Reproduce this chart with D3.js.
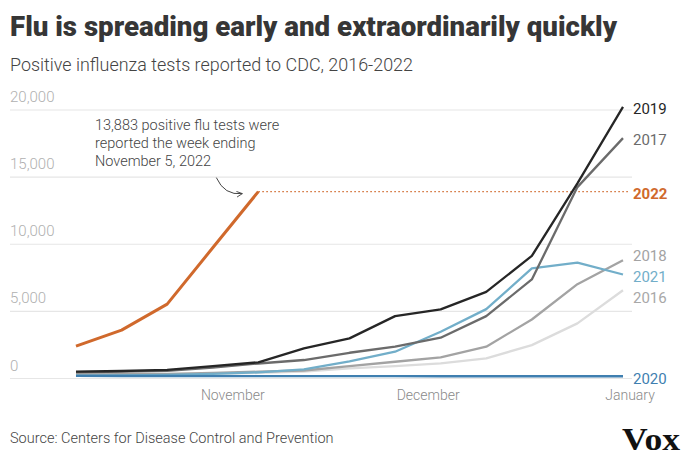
<!DOCTYPE html>
<html lang="en">
<head>
<meta charset="UTF-8">
<title>Flu is spreading early and extraordinarily quickly</title>
<script src="https://d3js.org/d3.v7.min.js"></script>
<style>
  body { margin: 0; background: #fff; font-family: Roboto, "Open Sans", Arial, sans-serif; }
</style>
</head>
<body>
<div id="chart"></div>
<script>
  // Week-ending dates of the season (MMWR weeks 40-52), placed on a 2022 calendar
  const weeks = ["2022-10-08", "2022-10-15", "2022-10-22", "2022-10-29", "2022-11-05",
                 "2022-11-12", "2022-11-19", "2022-11-26", "2022-12-03", "2022-12-10",
                 "2022-12-17", "2022-12-24", "2022-12-31"];

  // Positive flu tests per week
  const season2016 = [200, 220, 250, 300, 380, 470, 720, 890, 1090, 1460, 2450, 4070, 6540];
  const season2017 = [430, 480, 540, 780, 1080, 1340, 1880, 2330, 3000, 4610, 7340, 14220, 17870];
  const season2018 = [260, 280, 310, 380, 470, 560, 890, 1210, 1540, 2330, 4360, 6990, 8770];
  const season2019 = [470, 520, 600, 880, 1170, 2210, 2950, 4610, 5110, 6420, 9090, 14500, 20200];
  const season2020 = [160, 150, 150, 140, 140, 140, 140, 140, 130, 130, 130, 130, 130];
  const season2021 = [180, 200, 230, 300, 420, 640, 1240, 1960, 3440, 5130, 8160, 8600, 7710];
  const season2022 = [2380, 3570, 5500, 9700, 13883];

  const seriesNames = ["2016", "2018", "2021", "2017", "2019", "2020", "2022"];
  const seriesValues = [season2016, season2018, season2021, season2017, season2019, season2020, season2022];
  const seriesColors = ["#dcdcdc", "#a3a3a3", "#72aec9", "#6b6b6b", "#262626", "#3f7fb0", "#d0692c"];
  const labelColors  = ["#a8a8a8", "#a3a3a3", "#72aec9", "#6b6b6b", "#262626", "#3f7fb0", "#d0692c"];

  const yTicks = [0, 5000, 10000, 15000, 20000];
  const monthTicks = ["2022-11-01", "2022-12-01", "2023-01-01"];
  const monthLabels = ["November", "December", "January"];

  const W = 690, H = 467;
  const parse = d3.timeParse("%Y-%m-%d");

  const svg = d3.select("#chart").append("svg")
      .attr("width", W)
      .attr("height", H);

  const x = d3.scaleTime()
      .domain([parse(weeks[0]), parse(weeks[weeks.length - 1])])
      .range([76, 623]);

  const y = d3.scaleLinear()
      .domain([0, 20000])
      .range([378, 109.5]);

  // Title and subtitle
  svg.append("text")
      .attr("x", 10).attr("y", 36)
      .attr("font-size", 28).attr("font-weight", 900)
      .attr("fill", "#363636")
      .attr("textLength", 607).attr("lengthAdjust", "spacingAndGlyphs")
      .text("Flu is spreading early and extraordinarily quickly");

  svg.append("text")
      .attr("x", 10).attr("y", 71)
      .attr("font-size", 17.5).attr("font-weight", 300)
      .attr("fill", "#444")
      .attr("textLength", 403).attr("lengthAdjust", "spacingAndGlyphs")
      .text("Positive influenza tests reported to CDC, 2016-2022");

  // Y gridlines + labels
  const yAxis = svg.append("g")
      .attr("transform", "translate(10,0)")
      .call(d3.axisRight(y).tickValues(yTicks).tickSize(622).tickFormat(d3.format(",")));
  yAxis.select(".domain").remove();
  yAxis.selectAll(".tick line").attr("stroke", "#e6e6e6").attr("stroke-width", 1.2);
  yAxis.selectAll(".tick text")
      .attr("x", 0).attr("dy", -8)
      .attr("text-anchor", "start")
      .attr("font-family", "Roboto, sans-serif")
      .attr("font-size", 15).attr("font-weight", 300)
      .attr("fill", "#b0b0b0");

  // X axis month labels
  const xAxis = svg.append("g")
      .attr("transform", "translate(0,378)")
      .call(d3.axisBottom(x)
          .tickValues(monthTicks.map(parse))
          .tickSize(0)
          .tickFormat((d, i) => monthLabels[i]));
  xAxis.select(".domain").remove();
  xAxis.selectAll(".tick text")
      .attr("dy", 19)
      .attr("font-family", "Roboto, sans-serif")
      .attr("font-size", 14).attr("font-weight", 300)
      .attr("fill", "#8a8a8a");

  // Lines
  const line = d3.line()
      .x((d, i) => x(parse(weeks[i])))
      .y(d => y(d));

  const last2022 = season2022[season2022.length - 1];
  const last2022x = x(parse(weeks[season2022.length - 1]));

  // dotted reference line for 2022 peak
  svg.append("line")
      .attr("x1", last2022x).attr("x2", 630)
      .attr("y1", y(last2022)).attr("y2", y(last2022))
      .attr("stroke", "#d0692c")
      .attr("stroke-width", 1.3)
      .attr("stroke-dasharray", "1.5,2.5");

  seriesValues.forEach((vals, k) => {
      svg.append("path")
          .datum(vals)
          .attr("fill", "none")
          .attr("stroke", seriesColors[k])
          .attr("stroke-width", seriesNames[k] === "2022" ? 3 : 2.3)
          .attr("stroke-linejoin", "round")
          .attr("d", line);
  });

  // Right-hand series labels, nudged apart so they don't collide
  const labels = seriesNames.map((name, k) => ({
      name, k, y: y(seriesValues[k][seriesValues[k].length - 1]) + 2
  })).sort((a, b) => a.y - b.y);
  for (let it = 0; it < 100; it++) {
      for (let i = 1; i < labels.length; i++) {
          const gap = labels[i].y - labels[i - 1].y;
          if (gap < 21) {
              const push = (21 - gap) / 2;
              labels[i].y += push;
              labels[i - 1].y -= push;
          }
      }
  }
  svg.selectAll(".serieslabel")
      .data(labels)
      .join("text")
      .attr("class", "serieslabel")
      .attr("x", 633)
      .attr("y", d => d.y)
      .attr("dy", "0.35em")
      .attr("font-size", 15)
      .attr("font-weight", d => d.name === "2022" ? 700 : 400)
      .attr("fill", d => labelColors[d.k])
      .text(d => d.name);

  // Annotation
  const note = ["13,883 positive flu tests were", "reported the week ending", "November 5, 2022"];
  svg.append("text")
      .attr("x", 95).attr("y", 130)
      .attr("font-size", 14.5).attr("font-weight", 300)
      .attr("fill", "#444")
      .selectAll("tspan")
      .data(note)
      .join("tspan")
      .attr("x", 95)
      .attr("dy", (d, i) => i === 0 ? 0 : 18)
      .text(d => d);

  svg.append("defs").append("marker")
      .attr("id", "arrow")
      .attr("viewBox", "0 0 10 10")
      .attr("refX", 9).attr("refY", 5)
      .attr("markerWidth", 7).attr("markerHeight", 7)
      .attr("orient", "auto")
      .append("path")
      .attr("d", "M1,1 L9,5 L1,9")
      .attr("fill", "none")
      .attr("stroke", "#444")
      .attr("stroke-width", 1.3);

  const ax = last2022x - 16, ay = y(last2022) + 2;
  svg.append("path")
      .attr("d", `M${ax - 26},${ay - 16} Q${ax - 18},${ay + 2} ${ax},${ay}`)
      .attr("fill", "none")
      .attr("stroke", "#444")
      .attr("stroke-width", 1)
      .attr("marker-end", "url(#arrow)");

  // Source and logo
  svg.append("text")
      .attr("x", 10).attr("y", 443)
      .attr("font-size", 14.5).attr("font-weight", 300)
      .attr("fill", "#444")
      .text("Source: Centers for Disease Control and Prevention");

  svg.append("text")
      .attr("x", 622).attr("y", 450)
      .attr("font-family", "Liberation Serif, DejaVu Serif, serif")
      .attr("font-size", 32).attr("font-weight", 700)
      .attr("fill", "#111")
      .attr("textLength", 58).attr("lengthAdjust", "spacingAndGlyphs")
      .text("Vox");
</script>
</body>
</html>
